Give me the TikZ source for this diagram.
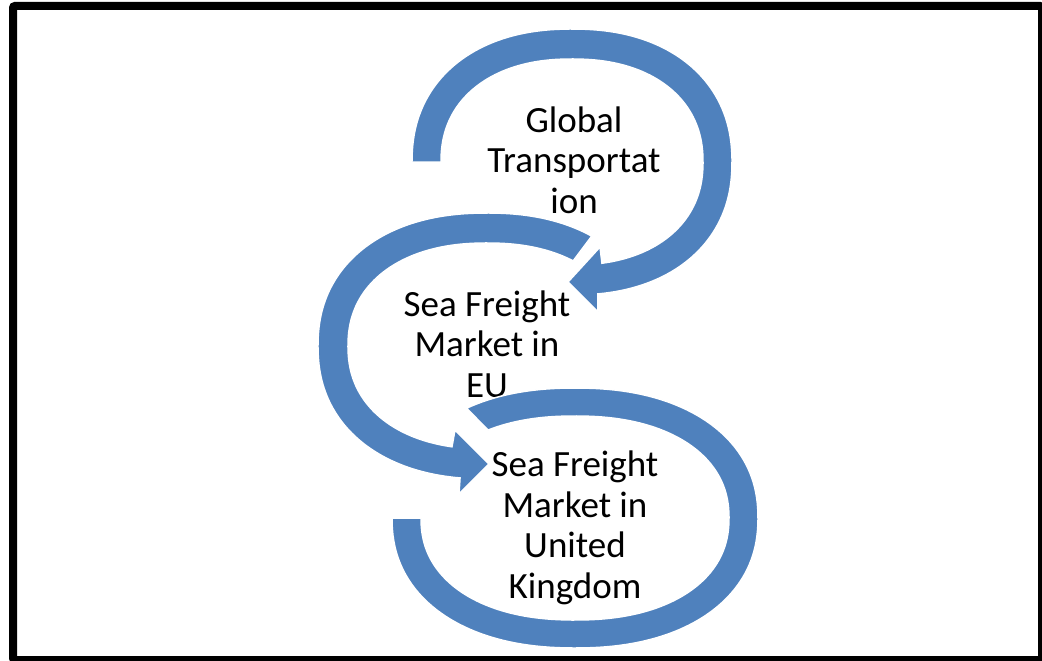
\documentclass[tikz,border=0pt]{standalone}
\usepackage{fontspec}
\setmainfont{Carlito}
\definecolor{bandblue}{HTML}{4F81BD}
\begin{document}
\begin{tikzpicture}[x=1pt,y=-1pt,
  declare function={sx(\t)=cos(\t)*(abs(cos(\t))+0.001)^(-0.1);
                    sy(\t)=sin(\t)*(abs(sin(\t))+0.001)^(-0.1);},
  band/.style={fill=bandblue, draw=white, line width=1.5pt, line join=miter},
  txt/.style={font=\fontsize{37}{40.5}\selectfont, align=center, text=black, inner sep=0pt},
  frame/.style={draw=black, line width=8pt, rounded corners=2pt}]
\useasboundingbox (0,0) rectangle (1042,661);
\draw[frame] (13,6) rectangle (1042,660);
% circle 1
\path[band] plot[domain=180:442.4,samples=130] ({572+160*sx(\x)},{162+133*sy(\x)})
  -- (598,312) -- (568,282) -- (600,247)
  -- plot[domain=438.8:180,samples=130] ({572+131*sx(\x)},{162+103*sy(\x)}) -- cycle;
\node[txt] (t1) at (574,160) {Global\\Transportat\\ion};
% circle 2
\path[band] plot[domain=306:97.5,samples=130] ({487+169*sx(\x)},{346+133*sy(\x)})
  -- (459,494) -- (489,464) -- (455,430)
  -- plot[domain=102.5:306,samples=130] ({487+139*sx(\x)},{346+103*sy(\x)}) -- cycle;
\node[txt] (t2) at (487,344) {Sea Freight\\Market in\\EU};
% circle 3
\path[band] plot[domain=180:-124,samples=150] ({575+183*sx(\x)},{518+130*sy(\x)})
  -- plot[domain=-122:180,samples=150] ({575+154*sx(\x)},{518+102*sy(\x)}) -- cycle;
\node[txt] (t3) at (575,528) {Sea Freight\\Market in\\United\\Kingdom};
\end{tikzpicture}
\end{document}
